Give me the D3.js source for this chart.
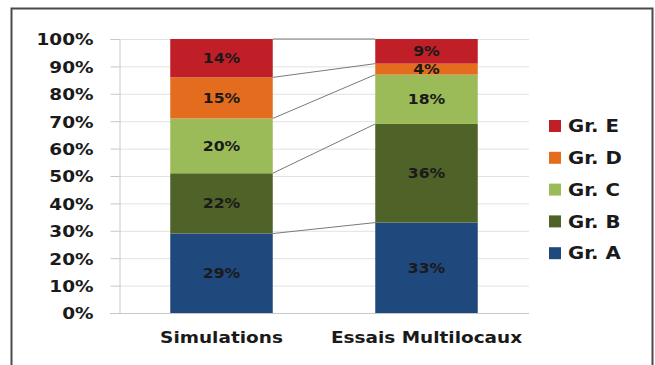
<!DOCTYPE html>
<html>
<head>
<meta charset="utf-8">
<script src="https://cdn.jsdelivr.net/npm/d3@7"></script>
<style>
  html, body { margin: 0; padding: 0; background: #fff; }
  svg text { font-family: "DejaVu Sans", Verdana, sans-serif; font-weight: bold; fill: #1a1a1a; }
</style>
</head>
<body>
<svg id="chart" width="655" height="365"></svg>
<script>
// Categories along the x axis
const categories = ["Simulations", "Essais Multilocaux"];
// Groups, bottom to top in each stacked column
const groups = ["Gr. A", "Gr. B", "Gr. C", "Gr. D", "Gr. E"];
// Share (%) of each group per category
const grA = [29, 33];
const grB = [22, 36];
const grC = [20, 18];
const grD = [15, 4];
const grE = [14, 9];
const groupColors = ["#1F497D", "#4F6228", "#9BBB59", "#E46C1E", "#C01F28"];
const yTicks = [0, 10, 20, 30, 40, 50, 60, 70, 80, 90, 100];

// Horizontal widening applied to all text
const SX = 1.12;

const seriesValues = [grA, grB, grC, grD, grE];
const rows = categories.map((c, i) => {
  const r = { category: c };
  groups.forEach((g, k) => { r[g] = seriesValues[k][i]; });
  return r;
});

const svg = d3.select("#chart");

// Outer frame
svg.append("rect")
  .attr("x", 11.5).attr("y", 8.5)
  .attr("width", 641).attr("height", 370)
  .attr("fill", "none").attr("stroke", "#4a4a4a").attr("stroke-width", 2);

const plotLeft = 119, plotRight = 529, plotTop = 39, plotBottom = 313;

const x = d3.scaleBand().domain(categories).range([plotLeft, plotRight]).paddingInner(0.5).paddingOuter(0.25);
const y = d3.scaleLinear().domain([0, 100]).range([plotBottom, plotTop]);

// Gridlines
svg.append("g").selectAll("line").data(yTicks.slice(1)).join("line")
  .attr("x1", plotLeft).attr("x2", plotRight)
  .attr("y1", d => y(d) + 0.5).attr("y2", d => y(d) + 0.5)
  .attr("stroke", "#e2e2e2").attr("stroke-width", 1);

// Y axis
const tickLen = 9, tickPad = 17;
const yAxis = svg.append("g")
  .attr("transform", `translate(${plotLeft + 0.5},0)`)
  .call(d3.axisLeft(y).tickValues(yTicks).tickFormat(d => d + "%").tickSize(tickLen).tickPadding(tickPad));
yAxis.select(".domain").attr("stroke", "#c8c8c8");
yAxis.selectAll(".tick line").attr("stroke", "#c8c8c8");
yAxis.selectAll(".tick text")
  .attr("font-size", 16.5).attr("fill", "#1a1a1a")
  .attr("font-family", "DejaVu Sans").attr("font-weight", "bold")
  .attr("x", -(tickLen + tickPad) / SX)
  .attr("transform", `scale(${SX},1)`)
  .attr("dy", "0.36em");

// X axis baseline
svg.append("line")
  .attr("x1", plotLeft - 9).attr("x2", plotRight)
  .attr("y1", plotBottom + 0.5).attr("y2", plotBottom + 0.5)
  .attr("stroke", "#c8c8c8");

// Category labels
svg.append("g").selectAll("text").data(categories).join("text")
  .attr("transform", d => `translate(${x(d) + x.bandwidth() / 2},343) scale(${SX},1)`)
  .attr("text-anchor", "middle")
  .attr("font-size", 16.5)
  .text(d => d);

const stacked = d3.stack().keys(groups)(rows);

// Connector lines between the two columns at each stack boundary
const connectors = stacked.map(s => s.map(p => p[1]));
svg.append("g").selectAll("line").data(connectors).join("line")
  .attr("x1", x(categories[0]) + x.bandwidth())
  .attr("x2", x(categories[1]))
  .attr("y1", d => y(d[0]))
  .attr("y2", d => y(d[1]))
  .attr("stroke", "#7a7a7a").attr("stroke-width", 1);

// Stacked segments
const layers = svg.append("g").selectAll("g").data(stacked).join("g")
  .attr("fill", (d, i) => groupColors[i]);
layers.selectAll("rect").data(d => d).join("rect")
  .attr("x", d => x(d.data.category))
  .attr("width", x.bandwidth())
  .attr("y", d => y(d[1]))
  .attr("height", d => y(d[0]) - y(d[1]));

// Segment value labels
layers.selectAll("text").data(d => d.map(p => ({ p, key: d.key }))).join("text")
  .attr("transform", d => `translate(${x(d.p.data.category) + x.bandwidth() / 2},${(y(d.p[0]) + y(d.p[1])) / 2}) scale(${SX},1)`)
  .attr("dy", "0.36em")
  .attr("text-anchor", "middle")
  .attr("font-size", 14)
  .style("fill", "#1a1a1a")
  .text(d => d.p.data[d.key] + "%");

// Legend, top group first
const legendItems = groups.map((g, i) => ({ g, color: groupColors[i] })).reverse();
const legend = svg.append("g").selectAll("g").data(legendItems).join("g")
  .attr("transform", (d, i) => `translate(549, ${126 + i * 31.8})`);
legend.append("rect")
  .attr("x", 0).attr("y", -6).attr("width", 12).attr("height", 12)
  .attr("fill", d => d.color);
legend.append("text")
  .attr("transform", `translate(19,0) scale(${SX + 0.04},1)`)
  .attr("dy", "0.36em")
  .attr("font-size", 17)
  .text(d => d.g);
</script>
</body>
</html>
